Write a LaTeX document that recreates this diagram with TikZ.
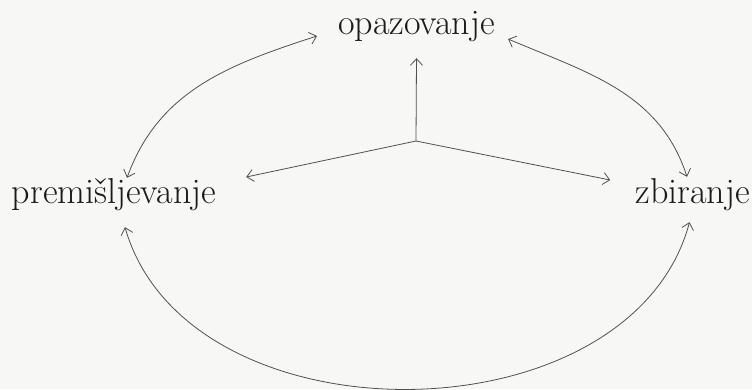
\documentclass[tikz,border=0pt]{standalone}
\usetikzlibrary{arrows.meta}
\definecolor{bgc}{HTML}{F7F7F5}
\definecolor{linec}{HTML}{505050}
\definecolor{textc}{HTML}{1A1A1A}
\begin{document}
\begin{tikzpicture}[x=1pt,y=-1pt,
  lbl/.style={inner sep=0pt, anchor=base, text=textc, font=\fontsize{36}{42}\selectfont,
              text height=24pt, text depth=9pt},
  conn/.style={draw=linec, line width=0.8pt,
               arrows={Straight Barb[length=6.5pt,width=12pt]-Straight Barb[length=6.5pt,width=12pt]}},
  ray/.style={draw=linec, line width=0.8pt, -{Straight Barb[length=6.5pt,width=12pt]}}]
\fill[bgc] (0,0) rectangle (752,389);
\useasboundingbox (0,0) rectangle (752,389);
\node[lbl] (opaz) at (416.5,34) {opazovanje};
\node[lbl] (prem) at (114,203) {premišljevanje};
\node[lbl] (zbir) at (692.5,203) {zbiranje};
\coordinate (c) at (416,141);
% rays from the centre
\draw[ray] (c) -- ([yshift=-15pt]opaz.south);
\draw[ray] (c) -- ([xshift=30pt,yshift=18.5pt]prem.east);
\draw[ray] (c) -- ([xshift=-25pt,yshift=15.5pt]zbir.west);
% cycle arrows
\draw[conn] ([xshift=-21pt,yshift=-9.5pt]opaz.west) to[out=198,in=70] ([xshift=13pt,yshift=1pt]prem.north);
\draw[conn] ([xshift=13pt,yshift=-12.5pt]opaz.east) to[out=-23,in=108] ([xshift=-5.5pt,yshift=2pt]zbir.north);
\draw[conn] ([xshift=11pt,yshift=-15pt]prem.south) to[out=-74,in=255,looseness=1.03] ([xshift=-3pt,yshift=-10pt]zbir.south);
\end{tikzpicture}
\end{document}
